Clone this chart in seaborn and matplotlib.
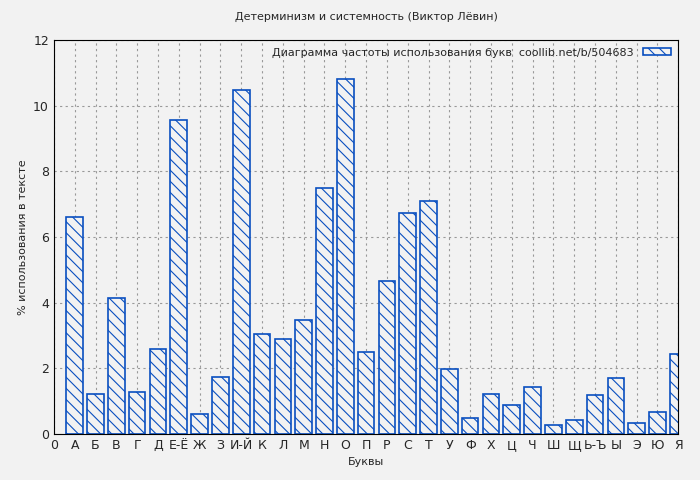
import numpy as np
import pandas as pd
import matplotlib
matplotlib.use('Agg')
import matplotlib.pyplot as plt
import seaborn as sns

letters = ['А', 'Б', 'В', 'Г', 'Д', 'Е-Ё', 'Ж', 'З', 'И-Й', 'К', 'Л', 'М', 'Н', 'О', 'П',
           'Р', 'С', 'Т', 'У', 'Ф', 'Х', 'Ц', 'Ч', 'Ш', 'Щ', 'Ь-Ъ', 'Ы', 'Э', 'Ю', 'Я']
freq = [6.62, 1.22, 4.15, 1.28, 2.6, 9.55, 0.6, 1.72, 10.48, 3.03, 2.9, 3.48, 7.5, 10.82, 2.5,
        4.67, 6.73, 7.1, 1.97, 0.49, 1.22, 0.87, 1.42, 0.27, 0.43, 1.18, 1.7, 0.34, 0.66, 2.43]
tick_labels = ['0'] + letters

sns.set_style('white')
plt.rcParams['font.family'] = ['DejaVu Sans']
plt.rcParams['hatch.color'] = '#0a4fc0'
plt.rcParams['hatch.linewidth'] = 0.8

df = pd.DataFrame({'pos': np.arange(1, len(letters) + 1), 'freq': freq})

fig, ax = plt.subplots(figsize=(7, 4.8), dpi=100)
fig.patch.set_facecolor('#f2f2f2')
ax.set_facecolor('#f2f2f2')
sns.barplot(data=df, x='pos', y='freq', native_scale=True, width=0.8,
            color='#f2f2f2', edgecolor='#0a4fc0', linewidth=1.2, hatch='\\\\\\',
            label='Диаграмма частоты использования букв  coollib.net/b/504683', ax=ax)
ax.set_xlim(0, 30)
ax.set_ylim(0, 12)
ax.set_xticks(range(0, 31))
ax.set_xticklabels(tick_labels, fontsize=9)
ax.set_yticks(range(0, 13, 2))
ax.tick_params(axis='y', labelsize=9)
ax.tick_params(direction='in', length=4)
ax.grid(True, color='#999999', linestyle=(0, (2, 3)), linewidth=0.8)
ax.set_axisbelow(True)
for s in ax.spines.values():
    s.set_color('black')
ax.set_xlabel('Буквы', fontsize=8)
ax.set_ylabel('% использования в тексте', fontsize=8)
ax.set_title('Детерминизм и системность (Виктор Лёвин)', fontsize=8, pad=14)
leg = ax.legend(loc='upper right', frameon=False, fontsize=8, markerfirst=False,
                handlelength=2.5, handleheight=0.6, borderaxespad=0.3)
fig.subplots_adjust(left=0.077, right=0.969, top=0.917, bottom=0.096)
fig.savefig('out.png', dpi=100, facecolor=fig.get_facecolor())
